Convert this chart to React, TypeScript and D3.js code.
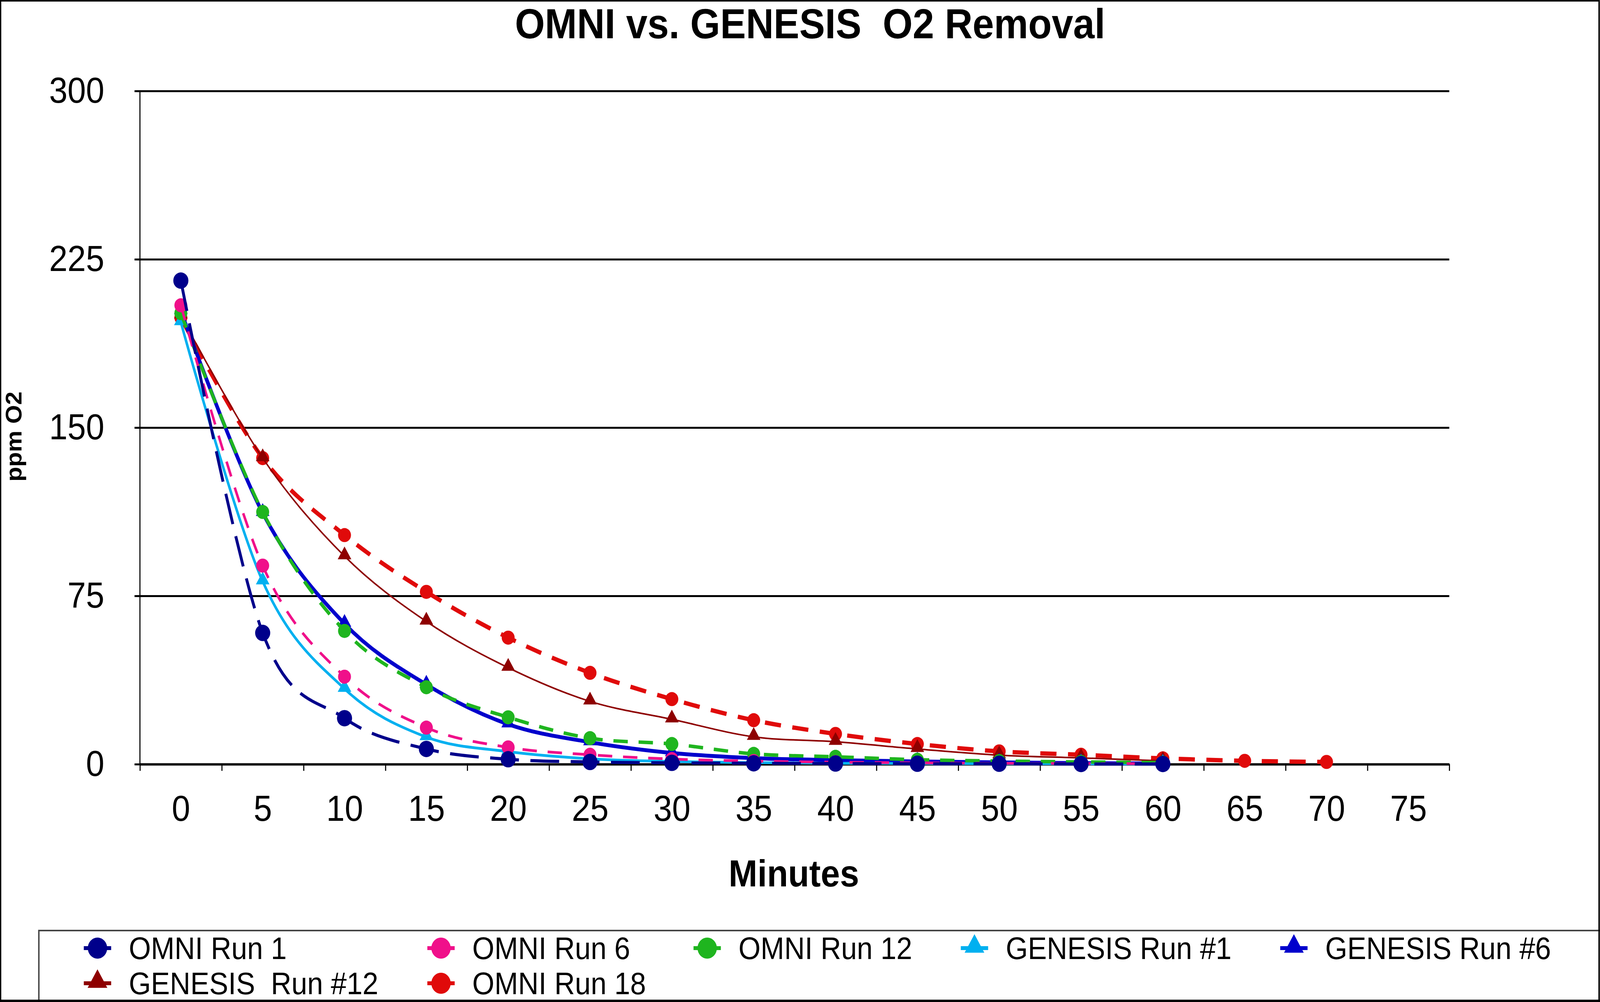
import React, { useEffect, useRef } from 'react';
import * as d3 from 'd3';

// ---------------- data ----------------
const minutes = [0, 5, 10, 15, 20, 25, 30, 35, 40, 45, 50, 55, 60, 65, 70];
const xTickLabels = [0, 5, 10, 15, 20, 25, 30, 35, 40, 45, 50, 55, 60, 65, 70, 75];
const yTickValues = [0, 75, 150, 225, 300];

const omniRun1 = [215.5, 58.5, 20.5, 6.8, 2.2, 1.0, 0.6, 0.4, 0.3, 0.2, 0.2, 0.1, 0.1];
const omniRun6 = [204.5, 88.5, 39.0, 16.3, 7.5, 4.2, 2.3, 1.4, 0.9, 0.6, 0.4, 0.3, 0.2];
const omniRun12 = [201.0, 112.4, 59.4, 34.3, 20.9, 11.6, 9.0, 4.6, 3.3, 2.0, 1.4, 1.0, 0.7];
const genesisRun1 = [197.0, 81.5, 33.6, 12.1, 5.6, 2.4, 1.2, 0.7, 0.4, 0.3, 0.2, 0.2, 0.1];
const genesisRun6 = [202.0, 112.0, 62.6, 35.5, 17.8, 9.8, 5.0, 2.7, 1.8, 1.2, 0.8, 0.5, 0.3];
const genesisRun12 = [200.0, 136.4, 92.7, 63.6, 43.0, 28.0, 20.0, 12.2, 10.0, 6.8, 4.0, 2.8, 1.5];
const omniRun18 = [199.0, 136.4, 102.1, 76.8, 56.4, 40.7, 29.0, 19.6, 13.5, 9.0, 5.7, 4.2, 2.6, 1.5, 1.0];

const seriesNames = [
  'OMNI Run 1',
  'OMNI Run 6',
  'OMNI Run 12',
  'GENESIS Run #1',
  'GENESIS Run #6',
  'GENESIS  Run #12',
  'OMNI Run 18',
];
const seriesValues = [omniRun1, omniRun6, omniRun12, genesisRun1, genesisRun6, genesisRun12, omniRun18];

// ---------------- styles ----------------
const seriesStyles = [
  { color: '#00008B', width: 8, dash: '80,32', marker: 'circle', r: 21 },
  { color: '#F0108A', width: 7, dash: '40,30', marker: 'circle', r: 18 },
  { color: '#1FB51F', width: 9, dash: '40,30', marker: 'circle', r: 18 },
  { color: '#00B0F0', width: 7, dash: null, marker: 'triangle', r: 18 },
  { color: '#0000CC', width: 10, dash: null, marker: 'triangle', r: 18 },
  { color: '#8E0000', width: 4, dash: null, marker: 'triangle', r: 18 },
  { color: '#E00A0A', width: 11, dash: '45,32', marker: 'circle', r: 18 },
];

const W = 4448;
const H = 2566;
const PLOT = { left: 389, right: 4029, top: 233, bottom: 1957 };
const FONT = "'Liberation Sans', Arial, Helvetica, sans-serif";

// legend layout (marker centre x per slot, row y)
const legendCols = [271, 1226, 1966, 2709, 3597];
const legendRows = [2428, 2518];

export default function App() {
  const ref = useRef<SVGSVGElement | null>(null);

  useEffect(() => {
    document.body.style.margin = '0';
    document.body.style.overflow = 'hidden';
    document.documentElement.style.overflow = 'hidden';

    const svg = d3.select(ref.current);
    svg.selectAll('*').remove();

    const x = d3.scaleLinear().domain([-2.5, 77.5]).range([PLOT.left, PLOT.right]);
    const y = d3.scaleLinear().domain([0, 300]).range([PLOT.bottom, PLOT.top]);

    svg.append('rect').attr('x', 0).attr('y', 0).attr('width', W).attr('height', H).attr('fill', '#fff');

    // title
    svg.append('text')
      .attr('x', 2252).attr('y', 98)
      .attr('text-anchor', 'middle')
      .attr('font-family', FONT).attr('font-weight', 'bold').attr('font-size', 107)
      .style('white-space', 'pre')
      .text('OMNI vs. GENESIS  O2 Removal');

    // y gridlines + labels via axis
    const yAxisG = svg.append('g').attr('transform', `translate(${PLOT.left - 15},0)`);
    yAxisG.call(
      d3.axisLeft(y)
        .tickValues(yTickValues)
        .tickSize(-(PLOT.right - PLOT.left + 15))
        .tickSizeOuter(0)
        .tickPadding(84)
        .tickFormat(d3.format('d'))
    );
    yAxisG.select('.domain').remove();
    yAxisG.selectAll('.tick line').attr('stroke', '#000').attr('stroke-width', 5);
    yAxisG.selectAll('.tick text')
      .attr('font-family', FONT).attr('font-size', 92).attr('fill', '#000');

    // y axis line
    svg.append('line')
      .attr('x1', PLOT.left).attr('x2', PLOT.left)
      .attr('y1', PLOT.top).attr('y2', PLOT.bottom)
      .attr('stroke', '#000').attr('stroke-width', 3);

    // x axis ticks at category boundaries
    const boundaries = d3.range(-2.5, 78, 5);
    const xTickG = svg.append('g').attr('transform', `translate(0,${PLOT.bottom})`);
    xTickG.call(d3.axisBottom(x).tickValues(boundaries).tickSize(17).tickSizeOuter(0).tickFormat(() => ''));
    xTickG.select('.domain').attr('stroke', '#000').attr('stroke-width', 6);
    xTickG.selectAll('.tick line').attr('stroke', '#000').attr('stroke-width', 3);

    // x labels
    const xLabG = svg.append('g').attr('transform', `translate(0,${PLOT.bottom})`);
    xLabG.call(d3.axisBottom(x).tickValues(xTickLabels).tickSize(0).tickPadding(80).tickFormat(d3.format('d')));
    xLabG.select('.domain').remove();
    xLabG.selectAll('.tick text').attr('font-family', FONT).attr('font-size', 92).attr('fill', '#000');

    // axis titles
    svg.append('text')
      .attr('x', 2207).attr('y', 2270)
      .attr('text-anchor', 'middle')
      .attr('font-family', FONT).attr('font-weight', 'bold').attr('font-size', 96)
      .text('Minutes');
    svg.append('text')
      .attr('transform', 'translate(60,1118) rotate(-90)')
      .attr('text-anchor', 'middle')
      .attr('font-family', FONT).attr('font-weight', 'bold').attr('font-size', 62)
      .text('ppm O2');

    // series (drawn in reverse order so OMNI Run 1 ends up on top)
    const plotG = svg.append('g');
    const triangle = d3.symbol().type(d3.symbolTriangle).size(620);
    const order = d3.range(seriesValues.length).reverse();
    order.forEach((si) => {
      const vals = seriesValues[si];
      const st = seriesStyles[si];
      const pts = vals.map((v, i) => [minutes[i], v] as [number, number]);
      const line = d3.line<[number, number]>()
        .x((d) => x(d[0]))
        .y((d) => y(d[1]))
        .curve(d3.curveCatmullRom.alpha(0));
      const p = plotG.append('path')
        .attr('d', line(pts))
        .attr('fill', 'none')
        .attr('stroke', st.color)
        .attr('stroke-width', st.width)
        .attr('stroke-linejoin', 'round');
      if (st.dash) p.attr('stroke-dasharray', st.dash);

      if (st.marker === 'circle') {
        plotG.selectAll(null).data(pts).enter().append('circle')
          .attr('cx', (d) => x(d[0])).attr('cy', (d) => y(d[1]))
          .attr('r', st.r).attr('fill', st.color);
      } else {
        plotG.selectAll(null).data(pts).enter().append('path')
          .attr('d', triangle() as string)
          .attr('transform', (d) => `translate(${x(d[0])},${y(d[1]) - 3})`)
          .attr('fill', st.color);
      }
    });

    // legend
    const lg = svg.append('g');
    const legendTriangle = d3.symbol().type(d3.symbolTriangle).size(1300);
    lg.append('rect')
      .attr('x', 108).attr('y', 2383).attr('width', W).attr('height', 400)
      .attr('fill', '#fff').attr('stroke', '#444').attr('stroke-width', 4);
    seriesNames.forEach((name, si) => {
      const col = si < 5 ? si : si - 5;
      const row = si < 5 ? 0 : 1;
      const cx = legendCols[col];
      const cy = legendRows[row];
      const st = seriesStyles[si];
      lg.append('line')
        .attr('x1', cx - 38).attr('x2', cx + 38).attr('y1', cy).attr('y2', cy)
        .attr('stroke', st.color).attr('stroke-width', 10);
      if (st.marker === 'circle') {
        lg.append('circle').attr('cx', cx).attr('cy', cy).attr('r', 27).attr('fill', st.color);
      } else {
        lg.append('path').attr('d', legendTriangle() as string)
          .attr('transform', `translate(${cx},${cy - 4})`).attr('fill', st.color);
      }
      lg.append('text')
        .attr('x', cx + 87).attr('y', cy + 28)
        .attr('font-family', FONT).attr('font-size', 79)
        .style('white-space', 'pre')
        .text(name);
    });

    // outer frame
    svg.append('rect')
      .attr('x', 1.5).attr('y', 2).attr('width', W - 4).attr('height', H - 4)
      .attr('fill', 'none').attr('stroke', '#000').attr('stroke-width', 4);
    svg.append('line')
      .attr('x1', 0).attr('x2', W).attr('y1', H - 3).attr('y2', H - 3)
      .attr('stroke', '#000').attr('stroke-width', 6);
  }, []);

  return (
    <svg
      ref={ref}
      viewBox={`0 0 ${W} ${H}`}
      preserveAspectRatio="none"
      style={{ position: 'absolute', left: 0, top: 0, width: '100vw', height: '100vh', display: 'block', background: '#fff' }}
    />
  );
}
